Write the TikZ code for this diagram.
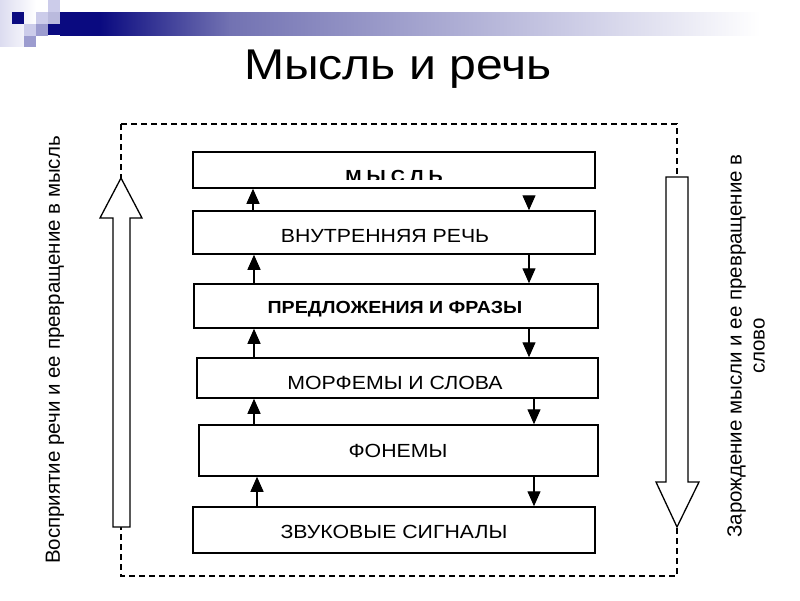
\documentclass[tikz,border=0pt]{standalone}
\usepackage{fontspec}
\setmainfont{Liberation Sans}
\newfontfamily\wfont[FakeStretch=1.12]{Liberation Sans}
\newfontfamily\tfont[FakeStretch=1.12]{Liberation Sans}
\usetikzlibrary{arrows.meta}
\definecolor{navy}{HTML}{0A0A80}
\definecolor{midblue}{HTML}{7272B2}
\definecolor{lightblue}{HTML}{CBCBE5}
\definecolor{sqlight}{HTML}{CCCCEA}
\definecolor{sqmid}{HTML}{9C9CCF}
\definecolor{edgelav}{HTML}{DCDCF0}
\tikzset{
  lvl/.style={draw=black, line width=1.5pt, fill=white, inner sep=0pt},
  lvltext/.style={font=\wfont\fontsize{19}{22}\selectfont, inner sep=0pt},
  lvlbold/.style={font=\wfont\bfseries\fontsize{17.5}{21}\selectfont, inner sep=0pt},
  sarrow/.style={line width=1.3pt, -{Triangle[width=13pt,length=15pt]}},
  bigarrow/.style={draw=black, line width=1.3pt, fill=white, line join=miter},
  frame/.style={line width=1.3pt, dash pattern=on 6pt off 4pt},
  sidetext/.style={font=\fontsize{20.5}{23}\selectfont, rotate=90, inner sep=0pt, align=center}
}
\begin{document}
\begin{tikzpicture}[x=1pt,y=-1pt]
\useasboundingbox (0,0) rectangle (800,600);
\fill[white] (0,0) rectangle (800,600);
% header decoration
\shade[left color=edgelav, right color=white] (0,0) rectangle (36,46);
\shade[left color=navy, right color=navy] (60,12) rectangle (100,35);
\shade[left color=navy, right color=midblue] (99.5,12) rectangle (230,35);
\shade[left color=midblue, right color=lightblue] (229.5,12) rectangle (570,35);
\shade[left color=lightblue, right color=white] (569.5,12) rectangle (760,35);
\fill[sqlight] (48,0) rectangle (60,12);
\fill[navy] (12,12) rectangle (24,24);
\fill[sqlight] (36,12) rectangle (48,24);
\fill[sqmid!70!white] (48,12) rectangle (60,24);
\fill[sqlight] (24,24) rectangle (36,36);
\fill[sqmid] (36,24) rectangle (48,36);
\fill[navy] (48,24) rectangle (60.5,35);
\fill[sqmid] (24,36) rectangle (36,47);
% title
\node[font=\tfont\fontsize{43}{48}\selectfont, inner sep=0pt, anchor=base] (title) at (398,79) {Мысль и речь};
% dashed frame
\draw[frame] (121,124) rectangle (677,576);
% big hollow arrows
\draw[bigarrow] (113,527) -- (113,218) -- (100,218) -- (121,178) -- (142,218) -- (130,218) -- (130,527) -- cycle;
\draw[bigarrow] (666,177) -- (688,177) -- (688,482) -- (699,482) -- (677,527) -- (656,482) -- (666,482) -- cycle;
% side texts
\node[sidetext] (lt) at (55,350) {Восприятие речи и ее превращение в мысль};
\node[sidetext] (rt) at (746,346) {Зарождение мысли и ее превращение в\\слово};
% level boxes
\node[lvl, minimum width=402pt, minimum height=36pt] (b1) at (394,170) {};
\node[lvl, minimum width=402pt, minimum height=43pt] (b2) at (394,232.5) {};
\node[lvl, minimum width=404pt, minimum height=44pt] (b3) at (396,306) {};
\node[lvl, minimum width=401pt, minimum height=40pt] (b4) at (397.5,378) {};
\node[lvl, minimum width=399pt, minimum height=51pt] (b5) at (398.5,450.5) {};
\node[lvl, minimum width=402pt, minimum height=46pt] (b6) at (394,530) {};
% texts
\begin{scope}
\clip (190,150) rectangle (600,179.5);
\node[lvlbold, anchor=base] (t1) at (394,182) {М\kern5pt Ы\kern5pt С\kern5pt Л\kern5pt Ь};
\end{scope}
\node[lvltext] (t2) at (385,236) {ВНУТРЕННЯЯ РЕЧЬ};
\node[lvlbold] (t3) at (395,309) {ПРЕДЛОЖЕНИЯ И ФРАЗЫ};
\node[lvltext] (t4) at (395,383) {МОРФЕМЫ И СЛОВА};
\node[lvltext] (t5) at (398,451) {ФОНЕМЫ};
\node[lvltext] (t6) at (394,532) {ЗВУКОВЫЕ СИГНАЛЫ};
% small arrows
\coordinate (ua) at (253,0);
\coordinate (ub) at (254,0);
\coordinate (uc) at (257,0);
\coordinate (da) at (529,0);
\coordinate (db) at (534,0);
\draw[sarrow] (b2.north -| ua) -- (b1.south -| ua);
\draw[sarrow] (b3.north -| ub) -- (b2.south -| ub);
\draw[sarrow] (b4.north -| ub) -- (b3.south -| ub);
\draw[sarrow] (b5.north -| ub) -- (b4.south -| ub);
\draw[sarrow] (b6.north -| uc) -- (b5.south -| uc);
\draw[sarrow] ([yshift=-8pt]b1.south -| da) -- (b2.north -| da);
\draw[sarrow] (b2.south -| da) -- (b3.north -| da);
\draw[sarrow] (b3.south -| da) -- (b4.north -| da);
\draw[sarrow] (b4.south -| db) -- (b5.north -| db);
\draw[sarrow] (b5.south -| db) -- (b6.north -| db);
\end{tikzpicture}
\end{document}
